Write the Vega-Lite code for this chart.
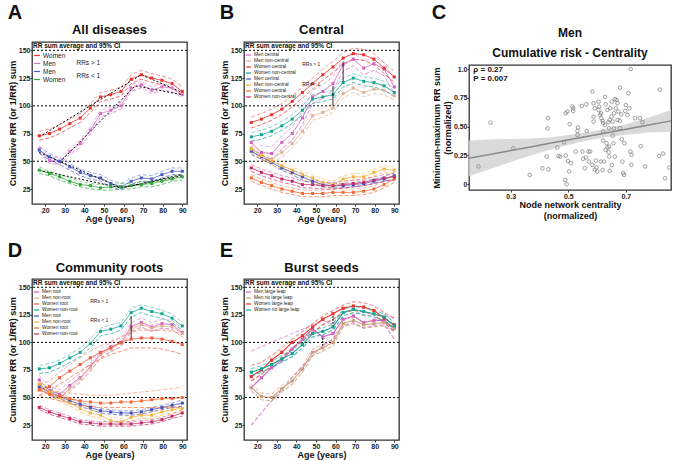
{
"$schema": "https://vega.github.io/schema/vega-lite/v6.json",
"padding": {"left": 7, "top": 2, "right": 2, "bottom": 0},
"config": {
 "font": "Liberation Sans",
 "view": {"stroke": "#333", "strokeWidth": 1.3},
 "axis": {"grid": false, "domain": false, "labelOverlap": false, "labelFontSize": 7, "labelFontWeight": "bold", "labelColor": "#222", "tickColor": "#333", "tickSize": 2, "labelPadding": 0, "titleFontSize": 9, "titleFontWeight": "bold", "titlePadding": 1, "titleColor": "#111"},
 "title": {"color": "#111"},
 "legend": {"orient": "top-left", "offset": 0, "symbolType": "stroke", "symbolSize": 36, "symbolStrokeWidth": 1.2, "titleFontSize": 6.5, "titleFontWeight": "bold", "titleColor": "#111", "rowPadding": 0, "padding": 1, "titlePadding": 2, "labelOffset": 2, "labelColor": "#222", "labelLimit": 120}
},
"datasets": {
"lA": [
{"s":"Women|>1","a":17,"m":73,"l":69,"h":77},{"s":"Women|>1","a":22.2,"m":75,"l":71,"h":79},{"s":"Women|>1","a":27.4,"m":79,"l":75,"h":83},{"s":"Women|>1","a":32.6,"m":84,"l":80,"h":88},{"s":"Women|>1","a":37.9,"m":89,"l":85,"h":93},{"s":"Women|>1","a":43.1,"m":98,"l":94,"h":102},{"s":"Women|>1","a":48.3,"m":108,"l":104,"h":112},{"s":"Women|>1","a":53.5,"m":110,"l":106,"h":114},{"s":"Women|>1","a":58.7,"m":113,"l":109,"h":117},{"s":"Women|>1","a":63.9,"m":124,"l":120,"h":128},{"s":"Women|>1","a":69.1,"m":128,"l":124,"h":132},{"s":"Women|>1","a":74.4,"m":125,"l":121,"h":129},{"s":"Women|>1","a":79.6,"m":123,"l":119,"h":127},{"s":"Women|>1","a":84.8,"m":120,"l":116,"h":124},{"s":"Women|>1","a":90,"m":113,"l":109,"h":117},
{"s":"Men|>1","a":17,"m":61,"l":58,"h":64},{"s":"Men|>1","a":22.2,"m":51,"l":48,"h":54},{"s":"Men|>1","a":27.4,"m":50,"l":47,"h":53},{"s":"Men|>1","a":32.6,"m":59,"l":56,"h":62},{"s":"Men|>1","a":37.9,"m":66,"l":63,"h":69},{"s":"Men|>1","a":43.1,"m":78,"l":75,"h":81},{"s":"Men|>1","a":48.3,"m":93,"l":90,"h":96},{"s":"Men|>1","a":53.5,"m":96,"l":93,"h":99},{"s":"Men|>1","a":58.7,"m":100,"l":97,"h":103},{"s":"Men|>1","a":63.9,"m":116,"l":113,"h":119},{"s":"Men|>1","a":69.1,"m":119,"l":116,"h":122},{"s":"Men|>1","a":74.4,"m":114,"l":111,"h":117},{"s":"Men|>1","a":79.6,"m":117,"l":114,"h":120},{"s":"Men|>1","a":84.8,"m":116,"l":113,"h":119},{"s":"Men|>1","a":90,"m":110,"l":107,"h":113},
{"s":"Men|<1","a":17,"m":60,"l":57,"h":63},{"s":"Men|<1","a":22.2,"m":54,"l":51,"h":57},{"s":"Men|<1","a":27.4,"m":50,"l":47,"h":53},{"s":"Men|<1","a":32.6,"m":45,"l":42,"h":48},{"s":"Men|<1","a":37.9,"m":40,"l":37,"h":43},{"s":"Men|<1","a":43.1,"m":37,"l":34,"h":40},{"s":"Men|<1","a":48.3,"m":35,"l":32,"h":38},{"s":"Men|<1","a":53.5,"m":30,"l":27,"h":33},{"s":"Men|<1","a":58.7,"m":27,"l":24,"h":30},{"s":"Men|<1","a":63.9,"m":32,"l":29,"h":35},{"s":"Men|<1","a":69.1,"m":35,"l":32,"h":38},{"s":"Men|<1","a":74.4,"m":34,"l":31,"h":37},{"s":"Men|<1","a":79.6,"m":38,"l":35,"h":41},{"s":"Men|<1","a":84.8,"m":41,"l":38,"h":44},{"s":"Men|<1","a":90,"m":41,"l":38,"h":44},
{"s":"Women|<1","a":17,"m":42,"l":39,"h":45},{"s":"Women|<1","a":22.2,"m":39,"l":37,"h":41},{"s":"Women|<1","a":27.4,"m":36,"l":33,"h":38},{"s":"Women|<1","a":32.6,"m":32,"l":30,"h":35},{"s":"Women|<1","a":37.9,"m":29,"l":27,"h":32},{"s":"Women|<1","a":43.1,"m":28,"l":25,"h":30},{"s":"Women|<1","a":48.3,"m":26,"l":24,"h":29},{"s":"Women|<1","a":53.5,"m":27,"l":24,"h":29},{"s":"Women|<1","a":58.7,"m":27,"l":25,"h":30},{"s":"Women|<1","a":63.9,"m":28,"l":25,"h":30},{"s":"Women|<1","a":69.1,"m":29,"l":27,"h":32},{"s":"Women|<1","a":74.4,"m":30,"l":27,"h":32},{"s":"Women|<1","a":79.6,"m":32,"l":29,"h":34},{"s":"Women|<1","a":84.8,"m":34,"l":32,"h":37},{"s":"Women|<1","a":90,"m":36,"l":33,"h":38}
],
"lB": [
{"s":"Men central","a":17,"m":67,"l":61,"h":73},{"s":"Men central","a":22.2,"m":58,"l":52,"h":64},{"s":"Men central","a":27.4,"m":57,"l":51,"h":63},{"s":"Men central","a":32.6,"m":67,"l":61,"h":73},{"s":"Men central","a":37.9,"m":75,"l":69,"h":81},{"s":"Men central","a":43.1,"m":89,"l":83,"h":95},{"s":"Men central","a":48.3,"m":108,"l":102,"h":114},{"s":"Men central","a":53.5,"m":113,"l":107,"h":119},{"s":"Men central","a":58.7,"m":120,"l":114,"h":126},{"s":"Men central","a":63.9,"m":137,"l":131,"h":143},{"s":"Men central","a":69.1,"m":142,"l":136,"h":148},{"s":"Men central","a":74.4,"m":134,"l":128,"h":140},{"s":"Men central","a":79.6,"m":138,"l":132,"h":144},{"s":"Men central","a":84.8,"m":133,"l":127,"h":139},{"s":"Men central","a":90,"m":117,"l":111,"h":123},
{"s":"Men non-central","a":17,"m":62,"l":58,"h":66},{"s":"Men non-central","a":22.2,"m":55,"l":51,"h":59},{"s":"Men non-central","a":27.4,"m":52,"l":48,"h":56},{"s":"Men non-central","a":32.6,"m":58,"l":54,"h":62},{"s":"Men non-central","a":37.9,"m":66,"l":62,"h":70},{"s":"Men non-central","a":43.1,"m":77,"l":73,"h":81},{"s":"Men non-central","a":48.3,"m":91,"l":87,"h":95},{"s":"Men non-central","a":53.5,"m":94,"l":90,"h":98},{"s":"Men non-central","a":58.7,"m":98,"l":94,"h":102},{"s":"Men non-central","a":63.9,"m":111,"l":107,"h":115},{"s":"Men non-central","a":69.1,"m":116,"l":112,"h":120},{"s":"Men non-central","a":74.4,"m":112,"l":108,"h":116},{"s":"Men non-central","a":79.6,"m":115,"l":111,"h":119},{"s":"Men non-central","a":84.8,"m":114,"l":110,"h":118},{"s":"Men non-central","a":90,"m":109,"l":105,"h":113},
{"s":"Women central","a":17,"m":85,"l":80,"h":90},{"s":"Women central","a":22.2,"m":88,"l":83,"h":93},{"s":"Women central","a":27.4,"m":92,"l":87,"h":97},{"s":"Women central","a":32.6,"m":97,"l":92,"h":102},{"s":"Women central","a":37.9,"m":104,"l":99,"h":109},{"s":"Women central","a":43.1,"m":112,"l":107,"h":117},{"s":"Women central","a":48.3,"m":120,"l":115,"h":125},{"s":"Women central","a":53.5,"m":128,"l":123,"h":133},{"s":"Women central","a":58.7,"m":135,"l":130,"h":140},{"s":"Women central","a":63.9,"m":143,"l":138,"h":148},{"s":"Women central","a":69.1,"m":147,"l":142,"h":152},{"s":"Women central","a":74.4,"m":146,"l":141,"h":151},{"s":"Women central","a":79.6,"m":142,"l":137,"h":147},{"s":"Women central","a":84.8,"m":134,"l":129,"h":139},{"s":"Women central","a":90,"m":126,"l":121,"h":131},
{"s":"Women non-central","a":17,"m":72,"l":68,"h":76},{"s":"Women non-central","a":22.2,"m":74,"l":70,"h":78},{"s":"Women non-central","a":27.4,"m":77,"l":73,"h":81},{"s":"Women non-central","a":32.6,"m":82,"l":78,"h":86},{"s":"Women non-central","a":37.9,"m":88,"l":84,"h":92},{"s":"Women non-central","a":43.1,"m":96,"l":92,"h":100},{"s":"Women non-central","a":48.3,"m":106,"l":102,"h":110},{"s":"Women non-central","a":53.5,"m":108,"l":104,"h":112},{"s":"Women non-central","a":58.7,"m":110,"l":106,"h":114},{"s":"Women non-central","a":63.9,"m":121,"l":117,"h":125},{"s":"Women non-central","a":69.1,"m":125,"l":121,"h":129},{"s":"Women non-central","a":74.4,"m":122,"l":118,"h":126},{"s":"Women non-central","a":79.6,"m":121,"l":117,"h":125},{"s":"Women non-central","a":84.8,"m":118,"l":114,"h":122},{"s":"Women non-central","a":90,"m":112,"l":108,"h":116},
{"s":"Men central|<1","a":17,"m":59,"l":56,"h":62},{"s":"Men central|<1","a":22.2,"m":54,"l":52,"h":56},{"s":"Men central|<1","a":27.4,"m":49,"l":47,"h":51},{"s":"Men central|<1","a":32.6,"m":44,"l":42,"h":46},{"s":"Men central|<1","a":37.9,"m":40,"l":38,"h":42},{"s":"Men central|<1","a":43.1,"m":36,"l":33,"h":39},{"s":"Men central|<1","a":48.3,"m":32,"l":30,"h":34},{"s":"Men central|<1","a":53.5,"m":29,"l":27,"h":31},{"s":"Men central|<1","a":58.7,"m":28,"l":26,"h":30},{"s":"Men central|<1","a":63.9,"m":28,"l":26,"h":30},{"s":"Men central|<1","a":69.1,"m":29,"l":27,"h":31},{"s":"Men central|<1","a":74.4,"m":30,"l":28,"h":32},{"s":"Men central|<1","a":79.6,"m":32,"l":30,"h":34},{"s":"Men central|<1","a":84.8,"m":34,"l":32,"h":36},{"s":"Men central|<1","a":90,"m":37,"l":34,"h":40},
{"s":"Men non-central|<1","a":17,"m":61,"l":58,"h":64},{"s":"Men non-central|<1","a":22.2,"m":55,"l":52,"h":58},{"s":"Men non-central|<1","a":27.4,"m":50,"l":47,"h":53},{"s":"Men non-central|<1","a":32.6,"m":46,"l":43,"h":49},{"s":"Men non-central|<1","a":37.9,"m":42,"l":39,"h":45},{"s":"Men non-central|<1","a":43.1,"m":38,"l":35,"h":41},{"s":"Men non-central|<1","a":48.3,"m":35,"l":32,"h":38},{"s":"Men non-central|<1","a":53.5,"m":31,"l":28,"h":34},{"s":"Men non-central|<1","a":58.7,"m":29,"l":26,"h":32},{"s":"Men non-central|<1","a":63.9,"m":34,"l":31,"h":37},{"s":"Men non-central|<1","a":69.1,"m":36,"l":33,"h":39},{"s":"Men non-central|<1","a":74.4,"m":36,"l":33,"h":39},{"s":"Men non-central|<1","a":79.6,"m":40,"l":37,"h":43},{"s":"Men non-central|<1","a":84.8,"m":43,"l":40,"h":46},{"s":"Men non-central|<1","a":90,"m":42,"l":39,"h":45},
{"s":"Women central|<1","a":17,"m":35,"l":32,"h":38},{"s":"Women central|<1","a":22.2,"m":31,"l":28,"h":34},{"s":"Women central|<1","a":27.4,"m":28,"l":25,"h":31},{"s":"Women central|<1","a":32.6,"m":25,"l":22,"h":28},{"s":"Women central|<1","a":37.9,"m":23,"l":20,"h":26},{"s":"Women central|<1","a":43.1,"m":21,"l":18,"h":24},{"s":"Women central|<1","a":48.3,"m":21,"l":18,"h":24},{"s":"Women central|<1","a":53.5,"m":21,"l":18,"h":24},{"s":"Women central|<1","a":58.7,"m":22,"l":19,"h":25},{"s":"Women central|<1","a":63.9,"m":22,"l":19,"h":25},{"s":"Women central|<1","a":69.1,"m":22,"l":19,"h":25},{"s":"Women central|<1","a":74.4,"m":23,"l":20,"h":26},{"s":"Women central|<1","a":79.6,"m":25,"l":22,"h":28},{"s":"Women central|<1","a":84.8,"m":29,"l":26,"h":32},{"s":"Women central|<1","a":90,"m":34,"l":31,"h":37},
{"s":"Women non-central|<1","a":17,"m":44,"l":41,"h":47},{"s":"Women non-central|<1","a":22.2,"m":40,"l":37,"h":43},{"s":"Women non-central|<1","a":27.4,"m":37,"l":34,"h":40},{"s":"Women non-central|<1","a":32.6,"m":34,"l":31,"h":37},{"s":"Women non-central|<1","a":37.9,"m":32,"l":29,"h":35},{"s":"Women non-central|<1","a":43.1,"m":29,"l":26,"h":32},{"s":"Women non-central|<1","a":48.3,"m":29,"l":26,"h":32},{"s":"Women non-central|<1","a":53.5,"m":28,"l":25,"h":31},{"s":"Women non-central|<1","a":58.7,"m":28,"l":25,"h":31},{"s":"Women non-central|<1","a":63.9,"m":29,"l":26,"h":32},{"s":"Women non-central|<1","a":69.1,"m":30,"l":27,"h":33},{"s":"Women non-central|<1","a":74.4,"m":31,"l":28,"h":34},{"s":"Women non-central|<1","a":79.6,"m":33,"l":30,"h":36},{"s":"Women non-central|<1","a":84.8,"m":35,"l":32,"h":38},{"s":"Women non-central|<1","a":90,"m":36,"l":33,"h":39}
],
"lD": [
{"s":"Men root","a":17,"m":66,"l":62,"h":70},{"s":"Men root","a":22.2,"m":56,"l":52,"h":60},{"s":"Men root","a":27.4,"m":53,"l":49,"h":57},{"s":"Men root","a":32.6,"m":61,"l":57,"h":65},{"s":"Men root","a":37.9,"m":68,"l":64,"h":72},{"s":"Men root","a":43.1,"m":78,"l":74,"h":82},{"s":"Men root","a":48.3,"m":90,"l":86,"h":94},{"s":"Men root","a":53.5,"m":96,"l":92,"h":100},{"s":"Men root","a":58.7,"m":100,"l":96,"h":104},{"s":"Men root","a":63.9,"m":114,"l":110,"h":118},{"s":"Men root","a":69.1,"m":118,"l":114,"h":122},{"s":"Men root","a":74.4,"m":114,"l":110,"h":118},{"s":"Men root","a":79.6,"m":117,"l":113,"h":121},{"s":"Men root","a":84.8,"m":116,"l":112,"h":120},{"s":"Men root","a":90,"m":109,"l":105,"h":113},
{"s":"Men non-root","a":17,"m":62,"l":59,"h":65},{"s":"Men non-root","a":22.2,"m":55,"l":52,"h":58},{"s":"Men non-root","a":27.4,"m":50,"l":47,"h":53},{"s":"Men non-root","a":32.6,"m":58,"l":55,"h":61},{"s":"Men non-root","a":37.9,"m":67,"l":64,"h":70},{"s":"Men non-root","a":43.1,"m":77,"l":74,"h":80},{"s":"Men non-root","a":48.3,"m":89,"l":86,"h":92},{"s":"Men non-root","a":53.5,"m":94,"l":91,"h":97},{"s":"Men non-root","a":58.7,"m":99,"l":96,"h":102},{"s":"Men non-root","a":63.9,"m":112,"l":109,"h":115},{"s":"Men non-root","a":69.1,"m":116,"l":113,"h":119},{"s":"Men non-root","a":74.4,"m":113,"l":110,"h":116},{"s":"Men non-root","a":79.6,"m":115,"l":112,"h":118},{"s":"Men non-root","a":84.8,"m":114,"l":111,"h":117},{"s":"Men non-root","a":90,"m":108,"l":105,"h":111},
{"s":"Women root","a":17,"m":57,"l":52,"h":62},{"s":"Women root","a":22.2,"m":60,"l":56,"h":65},{"s":"Women root","a":27.4,"m":68,"l":62,"h":73},{"s":"Women root","a":32.6,"m":74,"l":68,"h":80},{"s":"Women root","a":37.9,"m":80,"l":74,"h":86},{"s":"Women root","a":43.1,"m":86,"l":80,"h":92},{"s":"Women root","a":48.3,"m":91,"l":85,"h":97},{"s":"Women root","a":53.5,"m":95,"l":89,"h":101},{"s":"Women root","a":58.7,"m":100,"l":92,"h":105},{"s":"Women root","a":63.9,"m":103,"l":95,"h":109},{"s":"Women root","a":69.1,"m":104,"l":95,"h":111},{"s":"Women root","a":74.4,"m":104,"l":95,"h":111},{"s":"Women root","a":79.6,"m":103,"l":94,"h":111},{"s":"Women root","a":84.8,"m":101,"l":92,"h":110},{"s":"Women root","a":90,"m":98,"l":89,"h":108},
{"s":"Women non-root","a":17,"m":76,"l":72,"h":79},{"s":"Women non-root","a":22.2,"m":77,"l":73,"h":81},{"s":"Women non-root","a":27.4,"m":81,"l":77,"h":84},{"s":"Women non-root","a":32.6,"m":86,"l":82,"h":89},{"s":"Women non-root","a":37.9,"m":91,"l":87,"h":95},{"s":"Women non-root","a":43.1,"m":99,"l":95,"h":103},{"s":"Women non-root","a":48.3,"m":110,"l":106,"h":113},{"s":"Women non-root","a":53.5,"m":112,"l":108,"h":116},{"s":"Women non-root","a":58.7,"m":115,"l":111,"h":118},{"s":"Women non-root","a":63.9,"m":127,"l":123,"h":131},{"s":"Women non-root","a":69.1,"m":131,"l":127,"h":134},{"s":"Women non-root","a":74.4,"m":128,"l":124,"h":132},{"s":"Women non-root","a":79.6,"m":126,"l":122,"h":129},{"s":"Women non-root","a":84.8,"m":122,"l":118,"h":126},{"s":"Women non-root","a":90,"m":115,"l":111,"h":118},
{"s":"Men root|<1","a":17,"m":60,"l":57,"h":63},{"s":"Men root|<1","a":22.2,"m":55,"l":53,"h":58},{"s":"Men root|<1","a":27.4,"m":51,"l":49,"h":53},{"s":"Men root|<1","a":32.6,"m":47,"l":45,"h":49},{"s":"Men root|<1","a":37.9,"m":44,"l":42,"h":46},{"s":"Men root|<1","a":43.1,"m":41,"l":39,"h":43},{"s":"Men root|<1","a":48.3,"m":38,"l":36,"h":40},{"s":"Men root|<1","a":53.5,"m":37,"l":35,"h":39},{"s":"Men root|<1","a":58.7,"m":36,"l":34,"h":38},{"s":"Men root|<1","a":63.9,"m":36,"l":34,"h":38},{"s":"Men root|<1","a":69.1,"m":37,"l":35,"h":39},{"s":"Men root|<1","a":74.4,"m":39,"l":37,"h":41},{"s":"Men root|<1","a":79.6,"m":41,"l":39,"h":43},{"s":"Men root|<1","a":84.8,"m":43,"l":41,"h":45},{"s":"Men root|<1","a":90,"m":45,"l":42,"h":48},
{"s":"Men non-root|<1","a":17,"m":62,"l":59,"h":65},{"s":"Men non-root|<1","a":22.2,"m":55,"l":52,"h":58},{"s":"Men non-root|<1","a":27.4,"m":50,"l":47,"h":53},{"s":"Men non-root|<1","a":32.6,"m":45,"l":42,"h":48},{"s":"Men non-root|<1","a":37.9,"m":40,"l":37,"h":43},{"s":"Men non-root|<1","a":43.1,"m":36,"l":33,"h":39},{"s":"Men non-root|<1","a":48.3,"m":34,"l":31,"h":37},{"s":"Men non-root|<1","a":53.5,"m":29,"l":26,"h":32},{"s":"Men non-root|<1","a":58.7,"m":28,"l":25,"h":31},{"s":"Men non-root|<1","a":63.9,"m":32,"l":29,"h":35},{"s":"Men non-root|<1","a":69.1,"m":34,"l":31,"h":37},{"s":"Men non-root|<1","a":74.4,"m":34,"l":31,"h":37},{"s":"Men non-root|<1","a":79.6,"m":37,"l":34,"h":40},{"s":"Men non-root|<1","a":84.8,"m":39,"l":36,"h":42},{"s":"Men non-root|<1","a":90,"m":40,"l":37,"h":43},
{"s":"Women root|<1","a":17,"m":57,"l":52,"h":62},{"s":"Women root|<1","a":22.2,"m":53,"l":49,"h":57},{"s":"Women root|<1","a":27.4,"m":51,"l":47,"h":55},{"s":"Women root|<1","a":32.6,"m":49,"l":45,"h":54},{"s":"Women root|<1","a":37.9,"m":47,"l":43,"h":53},{"s":"Women root|<1","a":43.1,"m":46,"l":42,"h":52},{"s":"Women root|<1","a":48.3,"m":45,"l":41,"h":52},{"s":"Women root|<1","a":53.5,"m":45,"l":41,"h":52},{"s":"Women root|<1","a":58.7,"m":46,"l":41,"h":53},{"s":"Women root|<1","a":63.9,"m":46,"l":41,"h":54},{"s":"Women root|<1","a":69.1,"m":47,"l":41,"h":55},{"s":"Women root|<1","a":74.4,"m":48,"l":41,"h":56},{"s":"Women root|<1","a":79.6,"m":49,"l":41,"h":57},{"s":"Women root|<1","a":84.8,"m":49,"l":41,"h":58},{"s":"Women root|<1","a":90,"m":50,"l":41,"h":60},
{"s":"Women non-root|<1","a":17,"m":41,"l":39,"h":43},{"s":"Women non-root|<1","a":22.2,"m":37,"l":35,"h":39},{"s":"Women non-root|<1","a":27.4,"m":34,"l":32,"h":36},{"s":"Women non-root|<1","a":32.6,"m":31,"l":29,"h":33},{"s":"Women non-root|<1","a":37.9,"m":28,"l":26,"h":30},{"s":"Women non-root|<1","a":43.1,"m":27,"l":25,"h":29},{"s":"Women non-root|<1","a":48.3,"m":26,"l":24,"h":28},{"s":"Women non-root|<1","a":53.5,"m":26,"l":24,"h":28},{"s":"Women non-root|<1","a":58.7,"m":26,"l":24,"h":28},{"s":"Women non-root|<1","a":63.9,"m":26,"l":24,"h":28},{"s":"Women non-root|<1","a":69.1,"m":27,"l":25,"h":29},{"s":"Women non-root|<1","a":74.4,"m":28,"l":26,"h":30},{"s":"Women non-root|<1","a":79.6,"m":30,"l":28,"h":32},{"s":"Women non-root|<1","a":84.8,"m":33,"l":31,"h":35},{"s":"Women non-root|<1","a":90,"m":36,"l":33,"h":39}
],
"lE": [
{"s":"Men large leap","a":17,"m":59,"l":25,"h":92},{"s":"Men large leap","a":22.2,"m":68,"l":36,"h":96},{"s":"Men large leap","a":27.4,"m":77,"l":47,"h":100},{"s":"Men large leap","a":32.6,"m":84,"l":57,"h":104},{"s":"Men large leap","a":37.9,"m":94,"l":68,"h":108},{"s":"Men large leap","a":43.1,"m":103,"l":78,"h":112},{"s":"Men large leap","a":48.3,"m":112,"l":88,"h":116},{"s":"Men large leap","a":53.5,"m":105,"l":97,"h":120},{"s":"Men large leap","a":58.7,"m":108,"l":103,"h":116},{"s":"Men large leap","a":63.9,"m":121,"l":115,"h":127},{"s":"Men large leap","a":69.1,"m":124,"l":118,"h":130},{"s":"Men large leap","a":74.4,"m":118,"l":113,"h":124},{"s":"Men large leap","a":79.6,"m":120,"l":115,"h":125},{"s":"Men large leap","a":84.8,"m":120,"l":116,"h":124},{"s":"Men large leap","a":90,"m":113,"l":103,"h":122},
{"s":"Men no large leap","a":17,"m":59,"l":56,"h":62},{"s":"Men no large leap","a":22.2,"m":51,"l":48,"h":54},{"s":"Men no large leap","a":27.4,"m":50,"l":47,"h":53},{"s":"Men no large leap","a":32.6,"m":58,"l":55,"h":61},{"s":"Men no large leap","a":37.9,"m":65,"l":62,"h":68},{"s":"Men no large leap","a":43.1,"m":76,"l":73,"h":79},{"s":"Men no large leap","a":48.3,"m":91,"l":88,"h":94},{"s":"Men no large leap","a":53.5,"m":95,"l":92,"h":98},{"s":"Men no large leap","a":58.7,"m":100,"l":97,"h":103},{"s":"Men no large leap","a":63.9,"m":117,"l":114,"h":120},{"s":"Men no large leap","a":69.1,"m":120,"l":117,"h":123},{"s":"Men no large leap","a":74.4,"m":116,"l":113,"h":119},{"s":"Men no large leap","a":79.6,"m":117,"l":114,"h":120},{"s":"Men no large leap","a":84.8,"m":118,"l":115,"h":121},{"s":"Men no large leap","a":90,"m":113,"l":110,"h":116},
{"s":"Women large leap","a":17,"m":69,"l":65,"h":79},{"s":"Women large leap","a":22.2,"m":75,"l":71,"h":82},{"s":"Women large leap","a":27.4,"m":84,"l":79,"h":88},{"s":"Women large leap","a":32.6,"m":91,"l":86,"h":95},{"s":"Women large leap","a":37.9,"m":100,"l":95,"h":103},{"s":"Women large leap","a":43.1,"m":106,"l":101,"h":110},{"s":"Women large leap","a":48.3,"m":114,"l":109,"h":117},{"s":"Women large leap","a":53.5,"m":121,"l":116,"h":124},{"s":"Women large leap","a":58.7,"m":126,"l":121,"h":129},{"s":"Women large leap","a":63.9,"m":131,"l":127,"h":134},{"s":"Women large leap","a":69.1,"m":133,"l":129,"h":137},{"s":"Women large leap","a":74.4,"m":132,"l":128,"h":136},{"s":"Women large leap","a":79.6,"m":129,"l":125,"h":133},{"s":"Women large leap","a":84.8,"m":122,"l":118,"h":127},{"s":"Women large leap","a":90,"m":116,"l":110,"h":122},
{"s":"Women no large leap","a":17,"m":73,"l":70,"h":76},{"s":"Women no large leap","a":22.2,"m":76,"l":73,"h":79},{"s":"Women no large leap","a":27.4,"m":80,"l":77,"h":83},{"s":"Women no large leap","a":32.6,"m":85,"l":82,"h":88},{"s":"Women no large leap","a":37.9,"m":90,"l":87,"h":93},{"s":"Women no large leap","a":43.1,"m":98,"l":95,"h":101},{"s":"Women no large leap","a":48.3,"m":108,"l":105,"h":111},{"s":"Women no large leap","a":53.5,"m":110,"l":107,"h":113},{"s":"Women no large leap","a":58.7,"m":114,"l":111,"h":117},{"s":"Women no large leap","a":63.9,"m":127,"l":124,"h":130},{"s":"Women no large leap","a":69.1,"m":130,"l":127,"h":133},{"s":"Women no large leap","a":74.4,"m":128,"l":125,"h":131},{"s":"Women no large leap","a":79.6,"m":126,"l":123,"h":129},{"s":"Women no large leap","a":84.8,"m":123,"l":120,"h":126},{"s":"Women no large leap","a":90,"m":115,"l":112,"h":118}
],
"fits": [
{"s":"r","a":17,"val":72},{"s":"r","a":69.1,"val":128},{"s":"r","a":90,"val":112},
{"s":"p","a":27.4,"val":49},{"s":"p","a":66,"val":118},{"s":"p","a":90,"val":110},
{"s":"b","a":17,"val":58},{"s":"b","a":58.7,"val":26},{"s":"b","a":90,"val":38},
{"s":"g","a":17,"val":42},{"s":"g","a":58.7,"val":26},{"s":"g","a":90,"val":37}
],
"arr": [
{"p":"B","a":63.9,"val":140,"val2":122},{"p":"B","a":58.7,"val":118,"val2":100},
{"p":"D","a":63.9,"val":124,"val2":104},
{"p":"E","a":58.7,"val":124,"val2":115},{"p":"E","a":53.5,"val":104,"val2":96}
],
"band": [
{"x":0.155,"lo":0.07,"hi":0.38,"fit":0.225},{"x":0.25,"lo":0.15,"hi":0.39,"fit":0.269},{"x":0.35,"lo":0.235,"hi":0.395,"fit":0.315},{"x":0.45,"lo":0.31,"hi":0.41,"fit":0.362},{"x":0.55,"lo":0.372,"hi":0.444,"fit":0.408},{"x":0.62,"lo":0.405,"hi":0.475,"fit":0.44},{"x":0.7,"lo":0.43,"hi":0.52,"fit":0.477},{"x":0.78,"lo":0.45,"hi":0.58,"fit":0.514},{"x":0.857,"lo":0.455,"hi":0.645,"fit":0.55}
],
"scatter": [
{"x":0.188,"y":0.154},{"x":0.230,"y":0.535},{"x":0.309,"y":0.312},{"x":0.366,"y":0.081},{"x":0.410,"y":0.139},{"x":0.430,"y":0.573},{"x":0.428,"y":0.486},{"x":0.425,"y":0.240},{"x":0.431,"y":0.130},{"x":0.462,"y":0.318},
{"x":0.466,"y":0.246},{"x":0.472,"y":0.240},{"x":0.491,"y":0.616},{"x":0.497,"y":0.631},{"x":0.491,"y":0.249},{"x":0.499,"y":0.203},{"x":0.509,"y":0.182},{"x":0.486,"y":0.364},{"x":0.489,"y":0.038},{"x":0.494,"y":0.0},
{"x":0.503,"y":0.110},{"x":0.505,"y":0.521},{"x":0.514,"y":0.674},{"x":0.517,"y":0.659},{"x":0.517,"y":0.636},{"x":0.532,"y":0.463},{"x":0.534,"y":0.492},{"x":0.532,"y":0.428},{"x":0.526,"y":0.284},{"x":0.547,"y":0.680},
{"x":0.552,"y":0.220},{"x":0.557,"y":0.139},{"x":0.563,"y":0.694},{"x":0.564,"y":0.463},{"x":0.570,"y":0.284},{"x":0.576,"y":0.284},{"x":0.572,"y":0.197},{"x":0.584,"y":0.804},{"x":0.588,"y":0.703},{"x":0.592,"y":0.659},
{"x":0.588,"y":0.587},{"x":0.588,"y":0.544},{"x":0.592,"y":0.125},{"x":0.596,"y":0.205},{"x":0.598,"y":0.145},{"x":0.605,"y":0.717},{"x":0.605,"y":0.645},{"x":0.610,"y":0.601},{"x":0.614,"y":0.616},{"x":0.615,"y":0.573},
{"x":0.619,"y":0.550},{"x":0.621,"y":0.530},{"x":0.621,"y":0.457},{"x":0.628,"y":0.515},{"x":0.621,"y":0.379},{"x":0.625,"y":0.197},{"x":0.619,"y":0.125},{"x":0.628,"y":0.758},{"x":0.630,"y":0.694},{"x":0.636,"y":0.645},
{"x":0.640,"y":0.538},{"x":0.642,"y":0.486},{"x":0.644,"y":0.558},{"x":0.650,"y":0.587},{"x":0.654,"y":0.544},{"x":0.651,"y":0.717},{"x":0.633,"y":0.356},{"x":0.636,"y":0.318},{"x":0.640,"y":0.278},{"x":0.642,"y":0.240},
{"x":0.644,"y":0.116},{"x":0.651,"y":0.168},{"x":0.654,"y":0.422},{"x":0.657,"y":0.356},{"x":0.659,"y":0.616},{"x":0.662,"y":0.738},{"x":0.668,"y":0.732},{"x":0.671,"y":0.703},{"x":0.665,"y":0.659},{"x":0.674,"y":0.631},
{"x":0.680,"y":0.839},{"x":0.679,"y":0.550},{"x":0.684,"y":0.607},{"x":0.680,"y":0.486},{"x":0.686,"y":0.390},{"x":0.688,"y":0.197},{"x":0.691,"y":0.096},{"x":0.694,"y":0.081},{"x":0.698,"y":0.636},{"x":0.700,"y":0.688},
{"x":0.706,"y":0.601},{"x":0.709,"y":0.790},{"x":0.712,"y":0.659},{"x":0.716,"y":0.284},{"x":0.720,"y":0.255},{"x":0.719,"y":0.168},{"x":0.717,"y":1.0},{"x":0.732,"y":0.573},{"x":0.749,"y":0.573},{"x":0.752,"y":0.330},
{"x":0.758,"y":0.538},{"x":0.767,"y":0.154},{"x":0.816,"y":0.246},{"x":0.818,"y":0.821},{"x":0.830,"y":0.266},{"x":0.836,"y":0.052},{"x":0.851,"y":0.145},{"x":0.607,"y":0.674},{"x":0.671,"y":0.558},{"x":0.646,"y":0.659},
{"x":0.613,"y":0.197},{"x":0.662,"y":0.240},{"x":0.630,"y":0.298},{"x":0.549,"y":0.284},{"x":0.561,"y":0.232},{"x":0.584,"y":0.168},{"x":0.601,"y":0.110},{"x":0.642,"y":0.327},{"x":0.659,"y":0.486},{"x":0.695,"y":0.356}
]
},
"resolve": {"scale": {"color": "independent"}, "legend": {"color": "independent"}},
"spacing": 17,
"vconcat": [
{
"spacing": 30,
"resolve": {"scale": {"color": "independent"}, "legend": {"color": "independent"}},
"hconcat": [
{
 "title": {"text": "A", "anchor": "start", "frame": "bounds", "fontSize": 20, "fontWeight": "bold", "offset": 0},
 "resolve": {"scale": {"color": "independent"}, "legend": {"color": "independent"}},
 "vconcat": [{
  "width": 155, "height": 162,
  "title": {"text": "All diseases", "fontSize": 13, "fontWeight": "bold", "offset": 5},
  "layer": [
   {"data": {"values": [{"val": 50}, {"val": 100}, {"val": 150}]}, "mark": {"type": "rule", "strokeDash": [2, 2], "color": "#000", "strokeWidth": 1}, "encoding": {"y": {"field": "val", "type": "quantitative", "scale": {"domain": [11.5, 157.5], "nice": false, "zero": false}, "axis": {"values": [25, 50, 75, 100, 125, 150], "tickCount": 20}, "title": "Cumulative RR (or 1/RR) sum"}}},
   {"data": {"name": "lA"}, "transform": [{"fold": ["m", "l", "h"], "as": ["key", "val"]}], "mark": {"type": "line", "strokeWidth": 0.9},
    "encoding": {
     "x": {"field": "a", "type": "quantitative", "scale": {"domain": [13.3, 92.4], "nice": false, "zero": false}, "axis": {"values": [20, 30, 40, 50, 60, 70, 80, 90], "tickCount": 20}, "title": "Age (years)"},
     "y": {"field": "val", "type": "quantitative", "title": "Cumulative RR (or 1/RR) sum"},
     "color": {"field": "s", "type": "nominal", "scale": {"domain": ["Women|>1", "Men|>1", "Men|<1", "Women|<1"], "range": ["#e8322b", "#d670c8", "#4a5bc4", "#2aa838"]}, "legend": {"title": "RR sum average and 95% CI", "labelExpr": "split(datum.label,'|')[0]", "labelFontSize": 6.5, "symbolSize": 36}},
     "detail": {"field": "key", "type": "nominal"},
     "strokeDash": {"field": "key", "type": "nominal", "scale": {"domain": ["m", "l", "h"], "range": [[1, 0], [4, 2], [4, 2]]}, "legend": null},
     "opacity": {"field": "key", "type": "nominal", "scale": {"domain": ["m", "l", "h"], "range": [1, 0.55, 0.55]}, "legend": null}
    }},
   {"data": {"name": "fits"}, "mark": {"type": "line", "strokeDash": [2, 2], "color": "#000", "strokeWidth": 1}, "encoding": {"x": {"field": "a", "type": "quantitative", "title": "Age (years)"}, "y": {"field": "val", "type": "quantitative", "title": "Cumulative RR (or 1/RR) sum"}, "detail": {"field": "s", "type": "nominal"}}},
   {"data": {"name": "lA"}, "mark": {"type": "square", "size": 9, "opacity": 1},
    "encoding": {
     "x": {"field": "a", "type": "quantitative", "title": "Age (years)"},
     "y": {"field": "m", "type": "quantitative", "title": "Cumulative RR (or 1/RR) sum"},
     "color": {"field": "s", "type": "nominal", "scale": {"domain": ["Women|>1", "Men|>1", "Men|<1", "Women|<1"], "range": ["#e8322b", "#d670c8", "#4a5bc4", "#2aa838"]}, "legend": {"title": "RR sum average and 95% CI", "labelExpr": "split(datum.label,'|')[0]", "labelFontSize": 6.5, "symbolSize": 36}}
    }},
   {"data": {"values": [{"t": "RRs > 1", "a": 36, "val": 139}, {"t": "RRs < 1", "a": 36, "val": 127}]}, "mark": {"type": "text", "align": "left", "fontSize": 6.5, "color": "#222"}, "encoding": {"x": {"field": "a", "type": "quantitative", "title": "Age (years)"}, "y": {"field": "val", "type": "quantitative", "title": "Cumulative RR (or 1/RR) sum"}, "text": {"field": "t"}}}
  ]
 }]
},
{
 "title": {"text": "B", "anchor": "start", "frame": "bounds", "fontSize": 20, "fontWeight": "bold", "offset": 0},
 "resolve": {"scale": {"color": "independent"}, "legend": {"color": "independent"}},
 "vconcat": [{
  "width": 155, "height": 162,
  "title": {"text": "Central", "fontSize": 13, "fontWeight": "bold", "offset": 5},
  "layer": [
   {"data": {"values": [{"val": 50}, {"val": 100}, {"val": 150}]}, "mark": {"type": "rule", "strokeDash": [2, 2], "color": "#000", "strokeWidth": 1}, "encoding": {"y": {"field": "val", "type": "quantitative", "scale": {"domain": [11.5, 157.5], "nice": false, "zero": false}, "axis": {"values": [25, 50, 75, 100, 125, 150], "tickCount": 20}, "title": "Cumulative RR (or 1/RR) sum"}}},
   {"data": {"name": "lB"}, "transform": [{"fold": ["m", "l", "h"], "as": ["key", "val"]}], "mark": {"type": "line", "strokeWidth": 0.9},
    "encoding": {
     "x": {"field": "a", "type": "quantitative", "scale": {"domain": [13.3, 92.4], "nice": false, "zero": false}, "axis": {"values": [20, 30, 40, 50, 60, 70, 80, 90], "tickCount": 20}, "title": "Age (years)"},
     "y": {"field": "val", "type": "quantitative", "title": "Cumulative RR (or 1/RR) sum"},
     "color": {"field": "s", "type": "nominal", "scale": {"domain": ["Men central", "Men non-central", "Women central", "Women non-central", "Men central|<1", "Men non-central|<1", "Women central|<1", "Women non-central|<1"], "range": ["#d35fc3", "#e0b090", "#e8322b", "#16a595", "#4050c0", "#f7b340", "#f26a2e", "#c62a6a"]}, "legend": {"title": "RR sum average and 95% CI", "labelExpr": "split(datum.label,'|')[0]", "labelFontSize": 4.8, "symbolSize": 25}},
     "detail": {"field": "key", "type": "nominal"},
     "strokeDash": {"field": "key", "type": "nominal", "scale": {"domain": ["m", "l", "h"], "range": [[1, 0], [4, 2], [4, 2]]}, "legend": null},
     "opacity": {"field": "key", "type": "nominal", "scale": {"domain": ["m", "l", "h"], "range": [1, 0.55, 0.55]}, "legend": null}
    }},
   {"data": {"name": "lB"}, "mark": {"type": "square", "size": 9, "opacity": 1},
    "encoding": {
     "x": {"field": "a", "type": "quantitative", "title": "Age (years)"},
     "y": {"field": "m", "type": "quantitative", "title": "Cumulative RR (or 1/RR) sum"},
     "color": {"field": "s", "type": "nominal", "scale": {"domain": ["Men central", "Men non-central", "Women central", "Women non-central", "Men central|<1", "Men non-central|<1", "Women central|<1", "Women non-central|<1"], "range": ["#d35fc3", "#e0b090", "#e8322b", "#16a595", "#4050c0", "#f7b340", "#f26a2e", "#c62a6a"]}, "legend": {"title": "RR sum average and 95% CI", "labelExpr": "split(datum.label,'|')[0]", "labelFontSize": 4.8, "symbolSize": 25}}
    }},
   {"data": {"name": "arr"}, "transform": [{"filter": "datum.p=='B'"}], "mark": {"type": "rule", "color": "#000", "strokeWidth": 0.8}, "encoding": {"x": {"field": "a", "type": "quantitative", "title": "Age (years)"}, "y": {"field": "val", "type": "quantitative", "title": "Cumulative RR (or 1/RR) sum"}, "y2": {"field": "val2"}}},
   {"data": {"values": [{"t": "RRs > 1", "a": 43, "val": 138}, {"t": "RRs < 1", "a": 43, "val": 120}]}, "mark": {"type": "text", "align": "left", "fontSize": 5, "color": "#222"}, "encoding": {"x": {"field": "a", "type": "quantitative", "title": "Age (years)"}, "y": {"field": "val", "type": "quantitative", "title": "Cumulative RR (or 1/RR) sum"}, "text": {"field": "t"}}}
  ]
 }]
},
{
 "title": {"text": "C", "anchor": "start", "frame": "bounds", "fontSize": 20, "fontWeight": "bold", "offset": 4},
 "spacing": 0,
 "vconcat": [
  {"width": 202, "height": 1, "view": {"stroke": null}, "title": {"text": "Men", "fontSize": 12, "fontWeight": "bold", "offset": 0}, "data": {"values": [{}]}, "mark": {"type": "point", "opacity": 0}, "encoding": {}},
  {
  "width": 202, "height": 125,
  "title": {"text": "Cumulative risk - Centrality", "fontSize": 12, "fontWeight": "bold", "offset": 5},
  "layer": [
   {"data": {"name": "band"}, "mark": {"type": "area", "color": "#d4d4d4", "opacity": 0.85},
    "encoding": {
     "x": {"field": "x", "type": "quantitative", "scale": {"domain": [0.155, 0.857], "nice": false, "zero": false}, "axis": {"values": [0.3, 0.5, 0.7], "format": ".1f", "tickCount": 20}, "title": ["Node network centrality", "(normalized)"]},
     "y": {"field": "lo", "type": "quantitative", "scale": {"domain": [-0.05, 1.035], "nice": false, "zero": false}, "axis": {"values": [0, 0.25, 0.5, 0.75, 1], "tickCount": 20, "labelExpr": "datum.value==0?'0':datum.value==1?'1.0':format(datum.value,'.2f')"}, "title": ["Minimum-maximum RR sum", "(normalized)"]},
     "y2": {"field": "hi"}
    }},
   {"data": {"name": "band"}, "mark": {"type": "line", "color": "#8a8a8a", "strokeWidth": 1.5},
    "encoding": {"x": {"field": "x", "type": "quantitative", "title": ["Node network centrality", "(normalized)"]}, "y": {"field": "fit", "type": "quantitative", "title": ["Minimum-maximum RR sum", "(normalized)"]}}},
   {"data": {"name": "scatter"}, "mark": {"type": "point", "shape": "circle", "size": 13, "filled": false, "stroke": "#7a7a7a", "strokeWidth": 0.7, "opacity": 1},
    "encoding": {"x": {"field": "x", "type": "quantitative", "title": ["Node network centrality", "(normalized)"]}, "y": {"field": "y", "type": "quantitative", "title": ["Minimum-maximum RR sum", "(normalized)"]}}},
   {"data": {"values": [{"t": "ρ = 0.27", "x": 0.17, "y": 0.99}, {"t": "P = 0.007", "x": 0.17, "y": 0.91}]}, "mark": {"type": "text", "align": "left", "baseline": "middle", "fontSize": 8, "fontWeight": "bold", "color": "#111"},
    "encoding": {"x": {"field": "x", "type": "quantitative", "title": ["Node network centrality", "(normalized)"]}, "y": {"field": "y", "type": "quantitative", "title": ["Minimum-maximum RR sum", "(normalized)"]}, "text": {"field": "t"}}}
  ]
 }]
}
]
},
{
"spacing": 30,
"resolve": {"scale": {"color": "independent"}, "legend": {"color": "independent"}},
"hconcat": [
{
 "title": {"text": "D", "anchor": "start", "frame": "bounds", "fontSize": 20, "fontWeight": "bold", "offset": 0},
 "resolve": {"scale": {"color": "independent"}, "legend": {"color": "independent"}},
 "vconcat": [{
  "width": 155, "height": 161,
  "title": {"text": "Community roots", "fontSize": 13, "fontWeight": "bold", "offset": 4},
  "layer": [
   {"data": {"values": [{"val": 50}, {"val": 100}, {"val": 150}]}, "mark": {"type": "rule", "strokeDash": [2, 2], "color": "#000", "strokeWidth": 1}, "encoding": {"y": {"field": "val", "type": "quantitative", "scale": {"domain": [11.5, 157.5], "nice": false, "zero": false}, "axis": {"values": [25, 50, 75, 100, 125, 150], "tickCount": 20}, "title": "Cumulative RR (or 1/RR) sum"}}},
   {"data": {"name": "lD"}, "transform": [{"fold": ["m", "l", "h"], "as": ["key", "val"]}], "mark": {"type": "line", "strokeWidth": 0.9},
    "encoding": {
     "x": {"field": "a", "type": "quantitative", "scale": {"domain": [13.3, 92.4], "nice": false, "zero": false}, "axis": {"values": [20, 30, 40, 50, 60, 70, 80, 90], "tickCount": 20}, "title": "Age (years)"},
     "y": {"field": "val", "type": "quantitative", "title": "Cumulative RR (or 1/RR) sum"},
     "color": {"field": "s", "type": "nominal", "scale": {"domain": ["Men root", "Men non-root", "Women root", "Women non-root", "Men root|<1", "Men non-root|<1", "Women root|<1", "Women non-root|<1"], "range": ["#d35fc3", "#e0b090", "#ee5a40", "#16a595", "#4050c0", "#f7b340", "#f26a2e", "#c62a6a"]}, "legend": {"title": "RR sum average and 95% CI", "labelExpr": "split(datum.label,'|')[0]", "labelFontSize": 4.8, "symbolSize": 25}},
     "detail": {"field": "key", "type": "nominal"},
     "strokeDash": {"field": "key", "type": "nominal", "scale": {"domain": ["m", "l", "h"], "range": [[1, 0], [4, 2], [4, 2]]}, "legend": null},
     "opacity": {"field": "key", "type": "nominal", "scale": {"domain": ["m", "l", "h"], "range": [1, 0.55, 0.55]}, "legend": null}
    }},
   {"data": {"name": "lD"}, "mark": {"type": "square", "size": 9, "opacity": 1},
    "encoding": {
     "x": {"field": "a", "type": "quantitative", "title": "Age (years)"},
     "y": {"field": "m", "type": "quantitative", "title": "Cumulative RR (or 1/RR) sum"},
     "color": {"field": "s", "type": "nominal", "scale": {"domain": ["Men root", "Men non-root", "Women root", "Women non-root", "Men root|<1", "Men non-root|<1", "Women root|<1", "Women non-root|<1"], "range": ["#d35fc3", "#e0b090", "#ee5a40", "#16a595", "#4050c0", "#f7b340", "#f26a2e", "#c62a6a"]}, "legend": {"title": "RR sum average and 95% CI", "labelExpr": "split(datum.label,'|')[0]", "labelFontSize": 4.8, "symbolSize": 25}}
    }},
   {"data": {"name": "arr"}, "transform": [{"filter": "datum.p=='D'"}], "mark": {"type": "rule", "color": "#000", "strokeWidth": 0.8}, "encoding": {"x": {"field": "a", "type": "quantitative", "title": "Age (years)"}, "y": {"field": "val", "type": "quantitative", "title": "Cumulative RR (or 1/RR) sum"}, "y2": {"field": "val2"}}},
   {"data": {"values": [{"t": "RRs > 1", "a": 43, "val": 138}, {"t": "RRs < 1", "a": 43, "val": 120}]}, "mark": {"type": "text", "align": "left", "fontSize": 5, "color": "#222"}, "encoding": {"x": {"field": "a", "type": "quantitative", "title": "Age (years)"}, "y": {"field": "val", "type": "quantitative", "title": "Cumulative RR (or 1/RR) sum"}, "text": {"field": "t"}}}
  ]
 }]
},
{
 "title": {"text": "E", "anchor": "start", "frame": "bounds", "fontSize": 20, "fontWeight": "bold", "offset": 0},
 "resolve": {"scale": {"color": "independent"}, "legend": {"color": "independent"}},
 "vconcat": [{
  "width": 155, "height": 161,
  "title": {"text": "Burst seeds", "fontSize": 13, "fontWeight": "bold", "offset": 4},
  "layer": [
   {"data": {"values": [{"val": 50}, {"val": 100}, {"val": 150}]}, "mark": {"type": "rule", "strokeDash": [2, 2], "color": "#000", "strokeWidth": 1}, "encoding": {"y": {"field": "val", "type": "quantitative", "scale": {"domain": [11.5, 157.5], "nice": false, "zero": false}, "axis": {"values": [25, 50, 75, 100, 125, 150], "tickCount": 20}, "title": "Cumulative RR (or 1/RR) sum"}}},
   {"data": {"name": "lE"}, "transform": [{"fold": ["m", "l", "h"], "as": ["key", "val"]}], "mark": {"type": "line", "strokeWidth": 1.1},
    "encoding": {
     "x": {"field": "a", "type": "quantitative", "scale": {"domain": [13.3, 92.4], "nice": false, "zero": false}, "axis": {"values": [20, 30, 40, 50, 60, 70, 80, 90], "tickCount": 20}, "title": "Age (years)"},
     "y": {"field": "val", "type": "quantitative", "title": "Cumulative RR (or 1/RR) sum"},
     "color": {"field": "s", "type": "nominal", "scale": {"domain": ["Men large leap", "Men no large leap", "Women large leap", "Women no large leap"], "range": ["#d35fc3", "#c9a07c", "#e8322b", "#16a595"]}, "legend": {"title": "RR sum average and 95% CI", "labelFontSize": 4.8, "symbolSize": 25}},
     "detail": {"field": "key", "type": "nominal"},
     "strokeDash": {"field": "key", "type": "nominal", "scale": {"domain": ["m", "l", "h"], "range": [[1, 0], [4, 2], [4, 2]]}, "legend": null},
     "opacity": {"field": "key", "type": "nominal", "scale": {"domain": ["m", "l", "h"], "range": [1, 0.5, 0.5]}, "legend": null}
    }},
   {"data": {"name": "lE"}, "mark": {"type": "square", "size": 10, "opacity": 1},
    "encoding": {
     "x": {"field": "a", "type": "quantitative", "title": "Age (years)"},
     "y": {"field": "m", "type": "quantitative", "title": "Cumulative RR (or 1/RR) sum"},
     "color": {"field": "s", "type": "nominal", "scale": {"domain": ["Men large leap", "Men no large leap", "Women large leap", "Women no large leap"], "range": ["#d35fc3", "#c9a07c", "#e8322b", "#16a595"]}, "legend": {"title": "RR sum average and 95% CI", "labelFontSize": 4.8, "symbolSize": 25}}
    }},
   {"data": {"name": "arr"}, "transform": [{"filter": "datum.p=='E'"}], "mark": {"type": "rule", "color": "#000", "strokeWidth": 1, "strokeDash": [2, 1]}, "encoding": {"x": {"field": "a", "type": "quantitative", "title": "Age (years)"}, "y": {"field": "val", "type": "quantitative", "title": "Cumulative RR (or 1/RR) sum"}, "y2": {"field": "val2"}}}
  ]
 }]
}
]
}
]
}
